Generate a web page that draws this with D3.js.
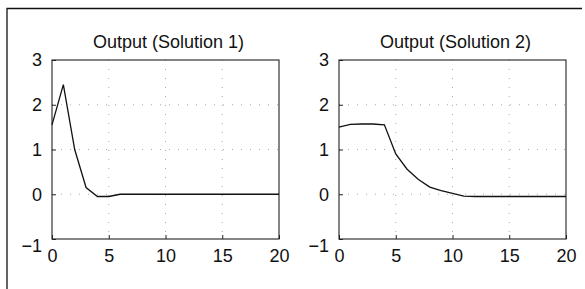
<!DOCTYPE html>
<html><head><meta charset="utf-8">
<script src="https://cdn.jsdelivr.net/npm/d3@7"></script>
<style>body{margin:0;background:#fff}svg{display:block}</style>
</head><body>
<script>
const time = [0,1,2,3,4,5,6,7,8,9,10,11,12,13,14,15,16,17,18,19,20];
const solution1 = [1.55,2.45,1.0,0.15,-0.05,-0.05,0,0,0,0,0,0,0,0,0,0,0,0,0,0,0];
const solution2 = [1.5,1.56,1.57,1.57,1.55,0.9,0.56,0.33,0.16,0.08,0.02,-0.04,-0.05,-0.05,-0.05,-0.05,-0.05,-0.05,-0.05,-0.05,-0.05];
const titles = ["Output (Solution 1)","Output (Solution 2)"];
const xTicks = [0,5,10,15,20];
const yTicks = [-1,0,1,2,3];

const W=585,H=289;
const svg=d3.select("body").append("svg").attr("width",W).attr("height",H);
// scan frame
svg.append("path").attr("d","M7,289V8.5H582").attr("fill","none").attr("stroke","#111").attr("stroke-width",1.3);

const panels=[{x0:52,x1:279,data:solution1,title:titles[0]},{x0:339,x1:566,data:solution2,title:titles[1]}];
const font="'Liberation Sans', Arial, Helvetica, sans-serif";
panels.forEach(p=>{
  const x=d3.scaleLinear().domain([0,20]).range([p.x0,p.x1]);
  const y=d3.scaleLinear().domain([-1,3]).range([239,60]);
  const g=svg.append("g");
  // grid (dotted, faint)
  g.selectAll(".gx").data(xTicks.slice(1,-1)).join("line").attr("x1",d=>x(d)).attr("x2",d=>x(d)).attr("y1",60).attr("y2",239)
    .attr("stroke","#aaa").attr("stroke-width",1).attr("stroke-dasharray","1,8");
  g.selectAll(".gy").data(yTicks.slice(1,-1)).join("line").attr("y1",d=>y(d)).attr("y2",d=>y(d)).attr("x1",p.x0).attr("x2",p.x1)
    .attr("stroke","#aaa").attr("stroke-width",1).attr("stroke-dasharray","1,8");
  // box
  g.append("rect").attr("x",p.x0).attr("y",60).attr("width",p.x1-p.x0).attr("height",179)
    .attr("fill","none").attr("stroke","#222").attr("stroke-width",1.1);
  // axes ticks
  const ax=d3.axisBottom(x).tickValues(xTicks).tickSize(-4).tickPadding(10).tickFormat(d3.format("d"));
  const gx=g.append("g").attr("transform","translate(0,239)").call(ax);
  const ay=d3.axisLeft(y).tickValues(yTicks).tickSize(-4).tickPadding(10).tickFormat(d=>d<0?"\u2212"+Math.abs(d):d);
  const gy=g.append("g").attr("transform",`translate(${p.x0},0)`).call(ay);
  [gx,gy].forEach(a=>{a.select(".domain").remove();a.selectAll("line").attr("stroke","#222");
    a.selectAll("text").attr("font-family",font).attr("font-size",18).attr("fill","#111");});
  gy.selectAll("text").filter(d=>d===-1).attr("dy","0.7em");
  // line
  const line=d3.line().x((d,i)=>x(time[i])).y(d=>y(d));
  g.append("path").datum(p.data).attr("d",line).attr("fill","none").attr("stroke","#111").attr("stroke-width",1.3);
  // title
  g.append("text").attr("x",(p.x0+p.x1)/2+3).attr("y",48).attr("text-anchor","middle")
    .attr("font-family",font).attr("font-size",18).attr("fill","#111").text(p.title);
});
</script>
</body></html>
